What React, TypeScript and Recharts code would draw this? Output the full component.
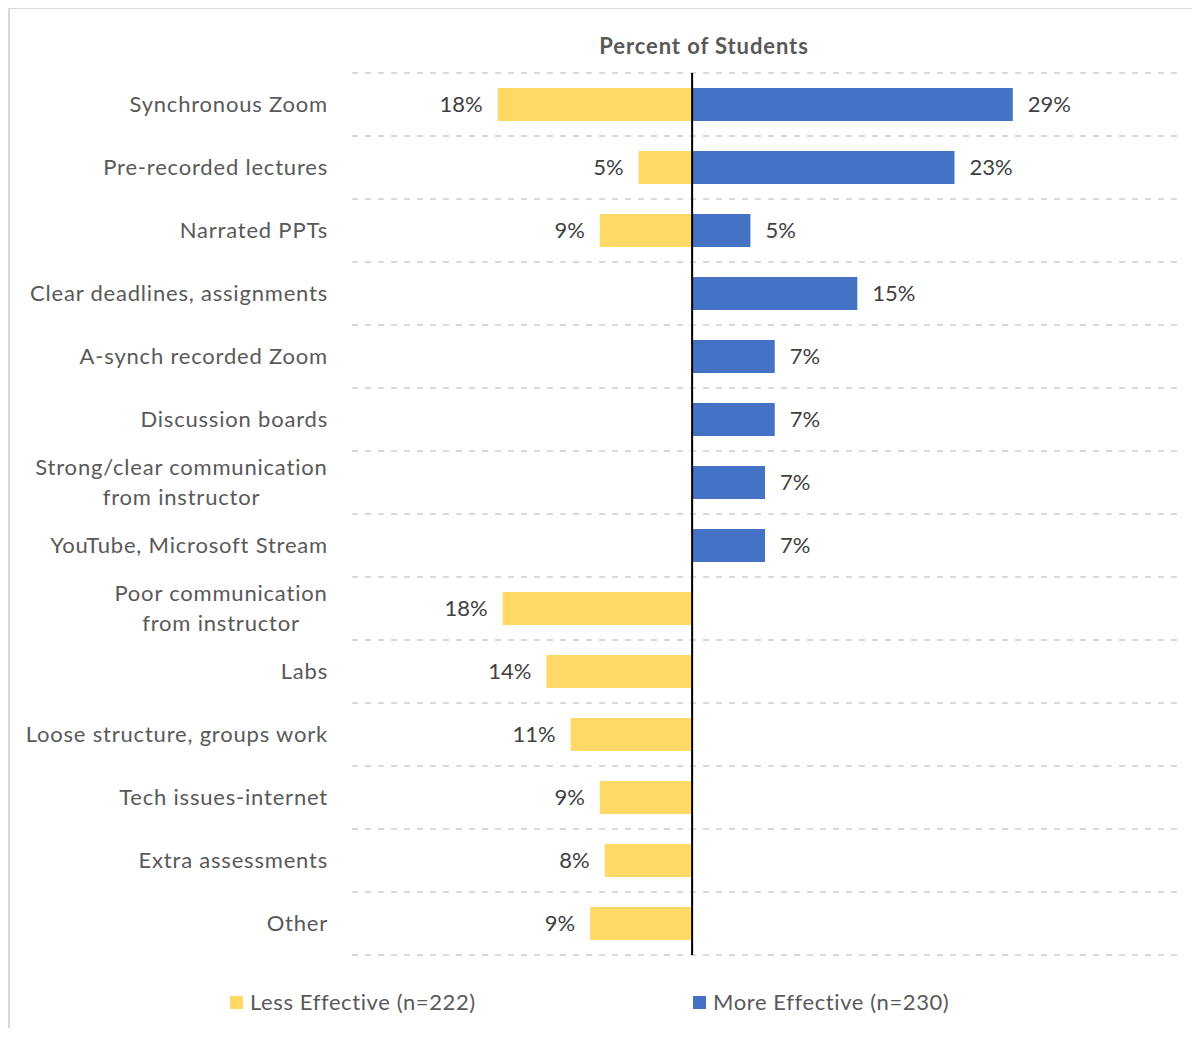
import React from 'react';
import { BarChart, Bar, XAxis, YAxis, CartesianGrid, ReferenceLine, Legend, LabelList } from 'recharts';

// ---- data ----
const categories = [
  'Synchronous Zoom',
  'Pre-recorded lectures',
  'Narrated PPTs',
  'Clear deadlines, assignments',
  'A-synch recorded Zoom',
  'Discussion boards',
  'Strong/clear communication\nfrom instructor',
  'YouTube, Microsoft Stream',
  'Poor communication\nfrom instructor',
  'Labs',
  'Loose structure, groups work',
  'Tech issues-internet',
  'Extra assessments',
  'Other',
];
// bar lengths (student counts)
const lessCounts = [40, 11, 19, 0, 0, 0, 0, 0, 39, 30, 25, 19, 18, 21];
const moreCounts = [66, 54, 12, 34, 17, 17, 15, 15, 0, 0, 0, 0, 0, 0];
// data labels (percent of students)
const lessPct = [18, 5, 9, null, null, null, null, null, 18, 14, 11, 9, 8, 9];
const morePct = [29, 23, 5, 15, 7, 7, 7, 7, null, null, null, null, null, null];
const seriesNames = ['Less Effective (n=222)', 'More Effective (n=230)'];
const xDomain = [-70, 100];
const title = 'Percent of Students';

const LESS_COLOR = '#FFD966';
const MORE_COLOR = '#4472C4';
const FONT = 'Lato, "Open Sans", sans-serif';
const TICK_SIZE = 22;
const TICK_LS = 0.8;
const LINE_H = 30;

const rows = categories.map((name, i) => ({
  name,
  less: -lessCounts[i],
  more: moreCounts[i],
  lessLabel: lessPct[i] == null ? '' : `${lessPct[i]}%`,
  moreLabel: morePct[i] == null ? '' : `${morePct[i]}%`,
}));

let ctx: CanvasRenderingContext2D | null = null;
function measure(t: string): number {
  if (!ctx) {
    const c = document.createElement('canvas');
    ctx = c.getContext('2d');
  }
  if (!ctx) return t.length * TICK_SIZE * 0.5;
  ctx.font = `${TICK_SIZE}px Lato`;
  return ctx.measureText(t).width + t.length * TICK_LS;
}

function YTick(props: any) {
  const { x, y, payload } = props;
  const lines = String(payload.value).split('\n');
  const style = { fontFamily: FONT, fontSize: TICK_SIZE, fill: '#595959', letterSpacing: TICK_LS };
  if (lines.length === 1) {
    return (
      <text x={x} y={y} dy="0.35em" textAnchor="end" style={style}>
        {lines[0]}
      </text>
    );
  }
  const maxW = Math.max(...lines.map(measure));
  const cx = Number(x) - maxW / 2;
  return (
    <g>
      {lines.map((l, i) => (
        <text
          key={i}
          x={cx}
          y={Number(y) + (i - (lines.length - 1) / 2) * LINE_H}
          dy="0.35em"
          textAnchor="middle"
          style={style}
        >
          {l}
        </text>
      ))}
    </g>
  );
}

function makeLabel(side: 'left' | 'right') {
  return (p: any) => {
    const { x, y, width, height, value } = p;
    if (!value) return null;
    const x0 = Number(x);
    const w = Number(width);
    const left = Math.min(x0, x0 + w);
    const right = Math.max(x0, x0 + w);
    const tx = side === 'left' ? left - 15 : right + 15;
    return (
      <text
        x={tx}
        y={Number(y) + Number(height) / 2}
        dy="0.35em"
        textAnchor={side === 'left' ? 'end' : 'start'}
        style={{ fontFamily: FONT, fontSize: 22, fill: '#404040' }}
      >
        {value}
      </text>
    );
  };
}

function LegendContent(props: any) {
  const payload = props.payload || [];
  const lefts = [222, 685];
  return (
    <div style={{ position: 'relative', height: 60, width: '100%' }}>
      {payload.map((e: any, i: number) => (
        <div
          key={i}
          style={{
            position: 'absolute',
            left: lefts[i] ?? 0,
            top: 35,
            height: 24,
            lineHeight: '24px',
            display: 'flex',
            alignItems: 'center',
            whiteSpace: 'nowrap',
            fontFamily: FONT,
            fontSize: 22,
            letterSpacing: 0.6,
            color: '#595959',
          }}
        >
          <span style={{ display: 'inline-block', width: 13, height: 13, background: e.color, marginRight: 7 }} />
          {e.value}
        </div>
      ))}
    </div>
  );
}

const N = categories.length;

export default function App() {
  const W = 1184;
  const H = 1020;
  return (
    <div style={{ position: 'relative', width: W, height: H, fontFamily: FONT }}>
      <div
        style={{
          position: 'absolute',
          left: 0,
          top: -1,
          right: -8,
          bottom: 0,
          borderTop: '2px solid #d9d9d9',
          borderLeft: '2px solid #d9d9d9',
          pointerEvents: 'none',
        }}
      />
      <div
        style={{
          position: 'absolute',
          left: 496,
          width: 400,
          top: 25,
          textAlign: 'center',
          fontFamily: FONT,
          fontWeight: 700,
          fontSize: 22,
          letterSpacing: 0.9,
          color: '#595959',
          lineHeight: '26px',
        }}
      >
        {title}
      </div>
      <BarChart
        width={W}
        height={H}
        data={rows}
        layout="vertical"
        stackOffset="sign"
        barSize={33}
        margin={{ top: 65, right: 14, bottom: 13, left: 0 }}
      >
        <CartesianGrid
          vertical={false}
          stroke="#d9d9d9"
          strokeWidth={2}
          strokeDasharray="6 7"
          horizontalCoordinatesGenerator={(args: any) => {
            const off = args && args.offset ? args.offset : { top: 65, height: 882 };
            const out: number[] = [];
            for (let i = 0; i <= N; i++) out.push(off.top + (i * off.height) / N);
            return out;
          }}
        />
        <XAxis type="number" domain={xDomain} hide allowDataOverflow />
        <YAxis
          type="category"
          dataKey="name"
          width={344}
          axisLine={false}
          tickLine={false}
          tickSize={0}
          tickMargin={24}
          interval={0}
          tick={<YTick />}
        />
        <Legend verticalAlign="bottom" content={<LegendContent />} />
        <Bar dataKey="less" name={seriesNames[0]} stackId="a" fill={LESS_COLOR} isAnimationActive={false}>
          <LabelList dataKey="lessLabel" content={makeLabel('left')} />
        </Bar>
        <Bar dataKey="more" name={seriesNames[1]} stackId="a" fill={MORE_COLOR} isAnimationActive={false}>
          <LabelList dataKey="moreLabel" content={makeLabel('right')} />
        </Bar>
        <ReferenceLine x={0} stroke="#000" strokeWidth={2} />
      </BarChart>
    </div>
  );
}
